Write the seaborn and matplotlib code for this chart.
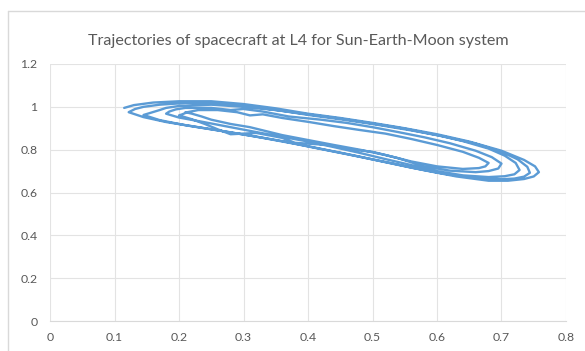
import matplotlib
matplotlib.use("Agg")
import matplotlib.pyplot as plt
import seaborn as sns
import pandas as pd
from matplotlib.lines import Line2D

# Trajectory points (x, y), traced loop by loop
x_vals = [
    # loop 1 (outermost)
    0.115, 0.13, 0.16, 0.20, 0.25, 0.30, 0.35, 0.40, 0.45, 0.50, 0.55, 0.60, 0.65, 0.70, 0.735, 0.752, 0.758,
    0.75, 0.735, 0.71, 0.68, 0.63, 0.58, 0.53, 0.48, 0.43, 0.38, 0.33, 0.28, 0.23, 0.18, 0.145, 0.122,
    # loop 2
    0.132, 0.145, 0.17, 0.21, 0.26, 0.31, 0.36, 0.41, 0.46, 0.51, 0.56, 0.61, 0.66, 0.70, 0.725, 0.74, 0.744,
    0.735, 0.72, 0.70, 0.66, 0.61, 0.56, 0.51, 0.46, 0.41, 0.36, 0.31, 0.26, 0.21, 0.17, 0.145,
    # loop 3
    0.17, 0.18, 0.20, 0.25, 0.30, 0.35, 0.40, 0.45, 0.50, 0.55, 0.60, 0.64, 0.68, 0.705, 0.722, 0.728,
    0.72, 0.705, 0.68, 0.64, 0.60, 0.56, 0.52, 0.48, 0.44, 0.40, 0.36, 0.32, 0.28, 0.24, 0.20, 0.18,
    # loop 4 (inner, wiggly)
    0.185, 0.195, 0.21, 0.25, 0.28, 0.30, 0.33, 0.37, 0.42, 0.46, 0.50, 0.54, 0.58, 0.62, 0.66, 0.685, 0.70,
    0.695, 0.68, 0.66, 0.62, 0.58, 0.54, 0.50, 0.47, 0.43, 0.38, 0.36, 0.32, 0.28, 0.26, 0.24, 0.22, 0.20,
    # loop 5 (innermost)
    0.205, 0.213, 0.23, 0.26, 0.29, 0.31, 0.33, 0.36, 0.40, 0.44, 0.48, 0.52, 0.56, 0.60, 0.64, 0.665, 0.68,
    0.675, 0.665, 0.64, 0.60, 0.56, 0.52, 0.48, 0.44, 0.40, 0.36, 0.33, 0.31, 0.28, 0.25, 0.235, 0.22, 0.21,
]
y_vals = [
    # loop 1
    0.995, 1.008, 1.020, 1.026, 1.026, 1.013, 0.993, 0.968, 0.948, 0.925, 0.900, 0.872, 0.838, 0.795, 0.752, 0.722, 0.695,
    0.675, 0.663, 0.655, 0.655, 0.675, 0.704, 0.736, 0.767, 0.797, 0.827, 0.855, 0.881, 0.905, 0.929, 0.952, 0.975,
    # loop 2
    0.990, 1.000, 1.010, 1.018, 1.016, 1.001, 0.981, 0.958, 0.938, 0.915, 0.890, 0.862, 0.828, 0.790, 0.755, 0.720, 0.692,
    0.674, 0.665, 0.662, 0.668, 0.688, 0.716, 0.748, 0.780, 0.810, 0.840, 0.866, 0.890, 0.914, 0.938, 0.962,
    # loop 3
    0.985, 0.995, 1.004, 1.010, 1.000, 0.985, 0.965, 0.945, 0.922, 0.898, 0.868, 0.840, 0.805, 0.772, 0.738, 0.705,
    0.685, 0.676, 0.672, 0.680, 0.700, 0.728, 0.756, 0.785, 0.812, 0.838, 0.860, 0.882, 0.905, 0.928, 0.950, 0.968,
    # loop 4
    0.978, 0.988, 0.995, 0.995, 0.985, 0.990, 0.978, 0.955, 0.940, 0.925, 0.905, 0.882, 0.858, 0.830, 0.795, 0.765, 0.735,
    0.712, 0.700, 0.695, 0.702, 0.722, 0.760, 0.790, 0.800, 0.822, 0.832, 0.855, 0.878, 0.872, 0.895, 0.920, 0.942, 0.960,
    # loop 5
    0.965, 0.975, 0.985, 0.985, 0.975, 0.960, 0.965, 0.948, 0.930, 0.910, 0.892, 0.875, 0.850, 0.822, 0.790, 0.762, 0.738,
    0.722, 0.714, 0.710, 0.722, 0.745, 0.775, 0.800, 0.822, 0.845, 0.868, 0.890, 0.905, 0.920, 0.940, 0.955, 0.968, 0.975,
]

title_text = "Trajectories of spacecraft at L4 for Sun-Earth-Moon system"
x_ticks = [0, 0.1, 0.2, 0.3, 0.4, 0.5, 0.6, 0.7, 0.8]
x_labels = ["0", "0.1", "0.2", "0.3", "0.4", "0.5", "0.6", "0.7", "0.8"]
y_ticks = [0, 0.2, 0.4, 0.6, 0.8, 1.0, 1.2]
y_labels = ["0", "0.2", "0.4", "0.6", "0.8", "1", "1.2"]

sns.set_style("white")
plt.rcParams["font.family"] = ["Lato", "DejaVu Sans"]

df = pd.DataFrame({"x": x_vals, "y": y_vals})

fig = plt.figure(figsize=(5.85, 3.51), dpi=100)
ax = fig.add_axes([50 / 585, 1 - 321 / 351, 516 / 585, 257 / 351])

sns.lineplot(data=df, x="x", y="y", sort=False, estimator=None, ax=ax,
             color="#5B9BD5", linewidth=1.7)
for ln in ax.get_lines():
    ln.set_solid_joinstyle("round")
    ln.set_solid_capstyle("round")

ax.set_xlim(0, 0.8)
ax.set_ylim(0, 1.2)
ax.set_xticks(x_ticks)
ax.set_xticklabels(x_labels)
ax.set_yticks(y_ticks)
ax.set_yticklabels(y_labels)
ax.grid(True, color="#E3E3E3", linewidth=0.8)
ax.set_axisbelow(True)
for side in ["top", "right", "left"]:
    ax.spines[side].set_visible(False)
ax.spines["bottom"].set_color("#D9D9D9")
ax.tick_params(axis="both", length=0, labelsize=8.8, colors="#595959")
ax.tick_params(axis="x", pad=8)
ax.tick_params(axis="y", pad=9)
ax.set_xlabel("")
ax.set_ylabel("")

fig.text(298 / 585, 1 - 41 / 351, title_text,
         ha="center", va="center", fontsize=11.6, color="#595959")

# chart area border (top and left visible)
fig.add_artist(Line2D([8 / 585, 1], [1 - 11 / 351] * 2, color="#D9D9D9", linewidth=1))
fig.add_artist(Line2D([8 / 585] * 2, [0, 1 - 11 / 351], color="#D9D9D9", linewidth=1))

fig.savefig("out.png", dpi=100)
